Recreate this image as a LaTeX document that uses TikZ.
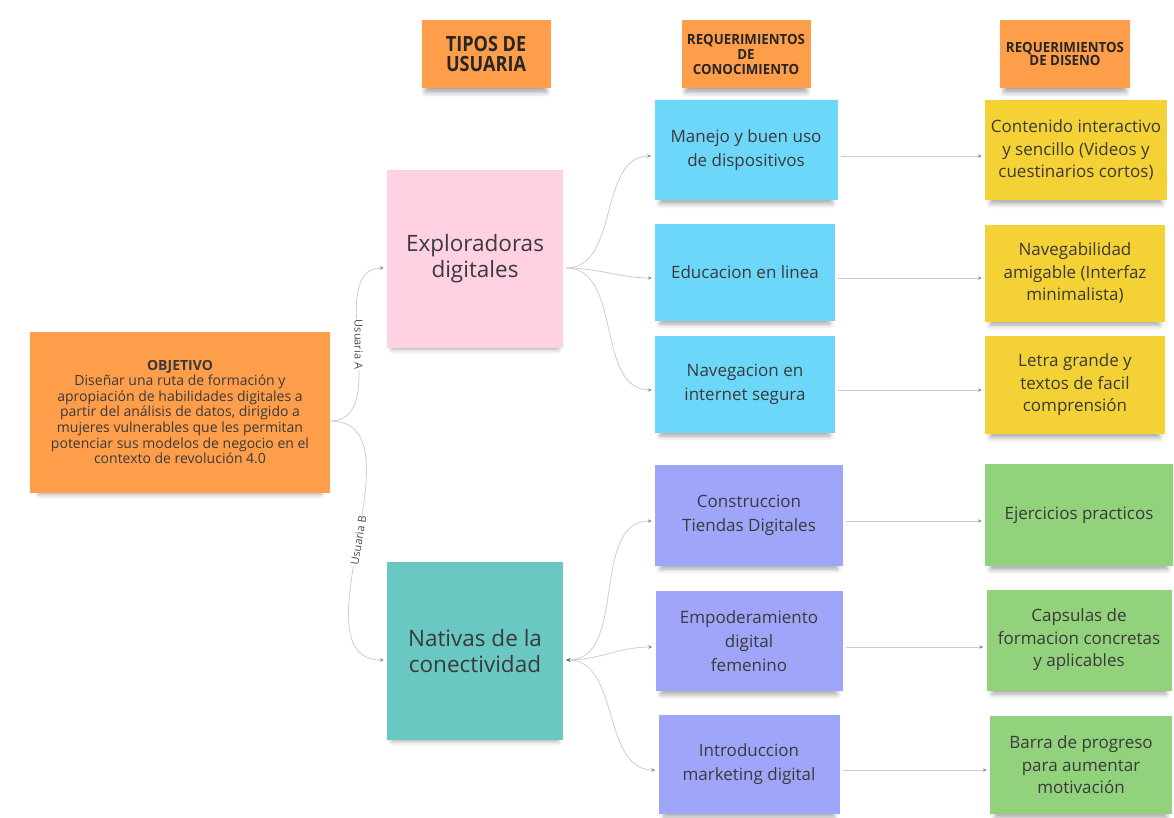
\documentclass[tikz,border=0pt]{standalone}
\usepackage{fontspec}
\setmainfont{Open Sans}
\newfontfamily\headfont[FakeStretch=0.86]{Open Sans}
\newfontfamily\reqfont[FakeStretch=0.95]{Open Sans}
\usetikzlibrary{arrows.meta,shadows.blur}

\definecolor{naranja}{HTML}{FF9E4A}
\definecolor{rosa}{HTML}{FFD1E3}
\definecolor{turquesa}{HTML}{69C8C1}
\definecolor{celeste}{HTML}{6DD7F9}
\definecolor{lila}{HTML}{9FA6FA}
\definecolor{amarillo}{HTML}{F4D135}
\definecolor{verde}{HTML}{93D27C}
\definecolor{tinta}{HTML}{3A3A3A}
\definecolor{linea}{HTML}{CDCDCD}

\begin{document}
\begin{tikzpicture}[x=1pt, y=-1pt,
	nota/.style={align=center, text=tinta, inner sep=0pt,
		blur shadow={shadow xshift=0pt, shadow yshift=-7pt, shadow blur radius=5pt, shadow opacity=35, shadow scale=0.94}},
	cabecera/.style={nota, fill=naranja, minimum width=129pt, minimum height=68pt, text=black!85},
	tipo/.style={nota, minimum width=176pt, minimum height=178pt, font=\fontsize{22.5}{26}\selectfont},
	saber/.style={nota, fill=#1, minimum width=182pt, minimum height=99pt, font=\fontsize{17}{24}\selectfont},
	diseno/.style={nota, fill=#1, minimum width=183pt, minimum height=99pt, font=\fontsize{17}{22.5}\selectfont},
	enlace/.style={draw=linea, line width=0.8pt, -{Stealth[length=4pt,width=3.5pt,color=black!45]}, shorten <=3pt, shorten >=3pt},
	etiqueta/.style={fill=white, inner sep=1pt, text=black!70, font=\fontsize{11}{12}\selectfont}]

	\useasboundingbox (0,0) rectangle (1174,817);

	% cabeceras
	\node[cabecera, font=\headfont\bfseries\fontsize{21}{19.5}\selectfont] (h1) at (486,54) {TIPOS DE\\USUARIA};
	\node[cabecera, font=\reqfont\bfseries\fontsize{14}{15}\selectfont] (h2) at (746,54) {REQUERIMIENTOS\\DE\\CONOCIMIENTO};
	\node[cabecera, font=\reqfont\bfseries\fontsize{14}{13.5}\selectfont, minimum width=130pt] (h3) at (1065,54) {REQUERIMIENTOS\\DE DISENO};

	% objetivo
	\node[nota, fill=naranja, minimum width=300pt, minimum height=161pt, font=\fontsize{14}{15.6}\selectfont] (obj) at (180,412)
		{{\bfseries OBJETIVO}\\Diseñar una ruta de formación y\\apropiación de habilidades digitales a\\partir del análisis de datos, dirigido a\\mujeres vulnerables que les permitan\\potenciar sus modelos de negocio en el\\contexto de revolución 4.0};

	% tipos de usuaria
	\node[tipo, fill=rosa] (explo) at (475,259) {Exploradoras\\digitales};
	\node[tipo, fill=turquesa] (nativas) at (475,651) {Nativas de la\\conectividad};

	% requerimientos de conocimiento
	\node[saber=celeste, minimum width=183pt, minimum height=100pt] (c1) at (746,150) {Manejo y buen uso\\de dispositivos};
	\node[saber=celeste, minimum width=180pt, minimum height=97pt] (c2) at (745,272) {Educacion en linea};
	\node[saber=celeste, minimum width=180pt, minimum height=97pt] (c3) at (745,384) {Navegacion en\\internet segura};
	\node[saber=lila, minimum width=188pt, minimum height=101pt] (c4) at (749,515) {Construccion\\Tiendas Digitales};
	\node[saber=lila, minimum width=187pt, minimum height=100pt] (c5) at (749,641) {Empoderamiento\\digital\\femenino};
	\node[saber=lila, minimum width=181pt] (c6) at (749,764) {Introduccion\\marketing digital};

	% requerimientos de diseno
	\node[diseno=amarillo, minimum width=182pt, minimum height=100pt] (d1) at (1076,150) {Contenido interactivo\\y sencillo (Videos y\\cuestinarios cortos)};
	\node[diseno=amarillo, minimum width=180pt, minimum height=97pt] (d2) at (1075,273) {Navegabilidad\\amigable (Interfaz\\minimalista)};
	\node[diseno=amarillo, minimum width=180pt, minimum height=98pt] (d3) at (1075,385) {Letra grande y\\textos de facil\\comprensión};
	\node[diseno=verde, minimum width=188pt, minimum height=102pt] (d4) at (1079,515) {Ejercicios practicos};
	\node[diseno=verde, minimum width=185pt, minimum height=101pt] (d5) at (1079,640) {Capsulas de\\formacion concretas\\y aplicables};
	\node[diseno=verde, minimum width=182pt, minimum height=98pt] (d6) at (1081,765) {Barra de progreso\\para aumentar\\motivación};

	% conectores
	\draw[enlace, shorten <=0pt] ([yshift=-9pt]obj.east) to[out=0, in=180]
		node[etiqueta, rotate=-90] {Usuaria A} ([yshift=-9pt]explo.west);
	\draw[enlace, shorten <=0pt] ([yshift=-9pt]obj.east) to[out=0, in=180]
		node[etiqueta, sloped] {Usuaria B} ([yshift=-9pt]nativas.west);

	\foreach \k in {c1, c2, c3}
		\draw[enlace] ([yshift=-9pt]explo.east) to[out=0, in=180] ([yshift=-6pt]\k.west);
	\foreach \k in {c4, c5, c6}
		\draw[enlace, {Stealth[length=4pt,width=3.5pt,color=black!55]}-{Stealth[length=4pt,width=3.5pt,color=black!45]}]
			([yshift=-9pt]nativas.east) to[out=0, in=180] ([yshift=-6pt]\k.west);

	\foreach \a/\b in {c1/d1, c2/d2, c3/d3, c4/d4, c5/d5, c6/d6}
		\draw[enlace] ([yshift=-6pt]\a.east) -- ([yshift=-6pt]\a.east -| \b.west);
\end{tikzpicture}
\end{document}
